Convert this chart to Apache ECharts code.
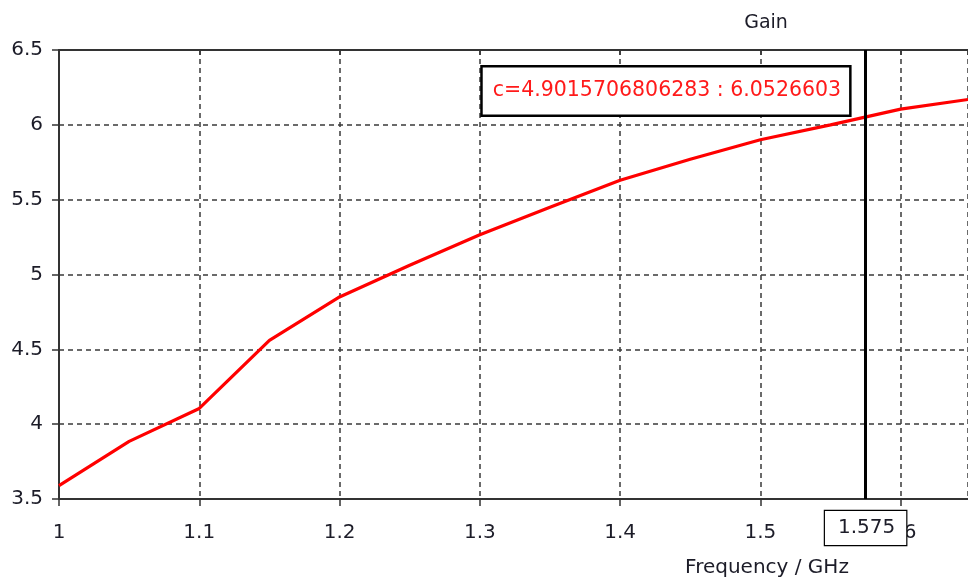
<!DOCTYPE html>
<html>
<head>
<meta charset="utf-8">
<script src="https://cdn.jsdelivr.net/npm/echarts@6/dist/echarts.min.js"></script>
<style>
  html, body { margin: 0; padding: 0; background: #fff; }
  #chart { width: 968px; height: 581px; }
</style>
</head>
<body>
<div id="chart"></div>
<script>
// Gain vs frequency sweep
const frequency = [1.0, 1.05, 1.1, 1.15, 1.2, 1.25, 1.3, 1.35, 1.4, 1.45, 1.5, 1.55, 1.6, 1.65];
const gain = [3.59, 3.885, 4.105, 4.56, 4.85, 5.062, 5.265, 5.45, 5.63, 5.77, 5.9, 6.0, 6.105, 6.172];

// Cursor readout
const cursorFreq = 1.575;
const cursorGain = 6.0526603;
const cursorText = 'c=4.9015706806283 : 6.0526603';

const FONT = "'DejaVu Sans', Verdana, sans-serif";
const axisColor = '#333';
const textColor = '#1c1c28';
const gridLine = { color: '#3a3a3a', width: 1.5, type: [5, 4] };

const chart = echarts.init(document.getElementById('chart'));

chart.setOption({
  animation: false,
  backgroundColor: '#fff',
  title: [
    {
      text: 'Gain',
      left: 761, top: 9, textAlign: 'center',
      textStyle: { fontFamily: FONT, fontSize: 19, fontWeight: 'normal', color: textColor }
    },
    {
      text: 'Frequency / GHz',
      left: 762, top: 553, textAlign: 'center',
      textStyle: { fontFamily: FONT, fontSize: 20, fontWeight: 'normal', color: textColor }
    }
  ],
  grid: { left: 59, top: 50, right: -2, bottom: 82, containLabel: false },
  xAxis: [
    {
      type: 'value',
      min: 1, max: 1.648, interval: 0.1,
      axisLine: { show: true, lineStyle: { color: axisColor, width: 2 } },
      axisTick: { show: true, length: 7, lineStyle: { color: axisColor, width: 1.5 } },
      axisLabel: {
        showMaxLabel: false, margin: 24,
        fontFamily: FONT, fontSize: 20, color: textColor
      },
      splitLine: { show: true, lineStyle: gridLine }
    },
    {
      type: 'value', position: 'top',
      min: 1, max: 1.648, interval: 0.1,
      axisLine: { show: true, lineStyle: { color: axisColor, width: 2 } },
      axisTick: { show: true, inside: true, length: 5, lineStyle: { color: axisColor, width: 1.5 } },
      axisLabel: { show: false },
      splitLine: { show: false }
    }
  ],
  yAxis: {
    type: 'value',
    min: 3.5, max: 6.5, interval: 0.5,
    axisLine: { show: true, lineStyle: { color: axisColor, width: 2 } },
    axisTick: { show: true, length: 7, lineStyle: { color: axisColor, width: 1.5 } },
    axisLabel: { margin: 16, padding: [4, 0, 0, 0], fontFamily: FONT, fontSize: 20, color: textColor },
    splitLine: { show: true, lineStyle: gridLine }
  },
  series: [
    {
      type: 'line',
      data: frequency.map((f, i) => [f, gain[i]]),
      showSymbol: false,
      symbol: 'none',
      lineStyle: { color: '#ff0000', width: 3.2 },
      clip: true,
      markLine: {
        silent: true,
        symbol: 'none',
        precision: 3,
        lineStyle: { color: '#000', width: 3, type: 'solid' },
        label: {
          show: true,
          position: 'start',
          distance: 12,
          formatter: String(cursorFreq),
          fontFamily: FONT, fontSize: 20, color: textColor,
          backgroundColor: '#fff',
          borderColor: '#000', borderWidth: 1.2,
          padding: [7, 11, 7, 13]
        },
        data: [{ xAxis: cursorFreq }]
      },
      markPoint: {
        silent: true,
        symbol: 'circle',
        symbolSize: 1,
        itemStyle: { color: 'rgba(0,0,0,0)' },
        label: {
          show: true,
          position: 'left',
          distance: 16,
          offset: [0, -26],
          formatter: cursorText,
          fontFamily: FONT, fontSize: 20.5, color: '#ff1a1a',
          backgroundColor: '#fff',
          borderColor: '#000', borderWidth: 2.5,
          padding: [13, 8, 13, 10]
        },
        data: [{ coord: [cursorFreq, cursorGain] }]
      }
    }
  ]
});
</script>
</body>
</html>
